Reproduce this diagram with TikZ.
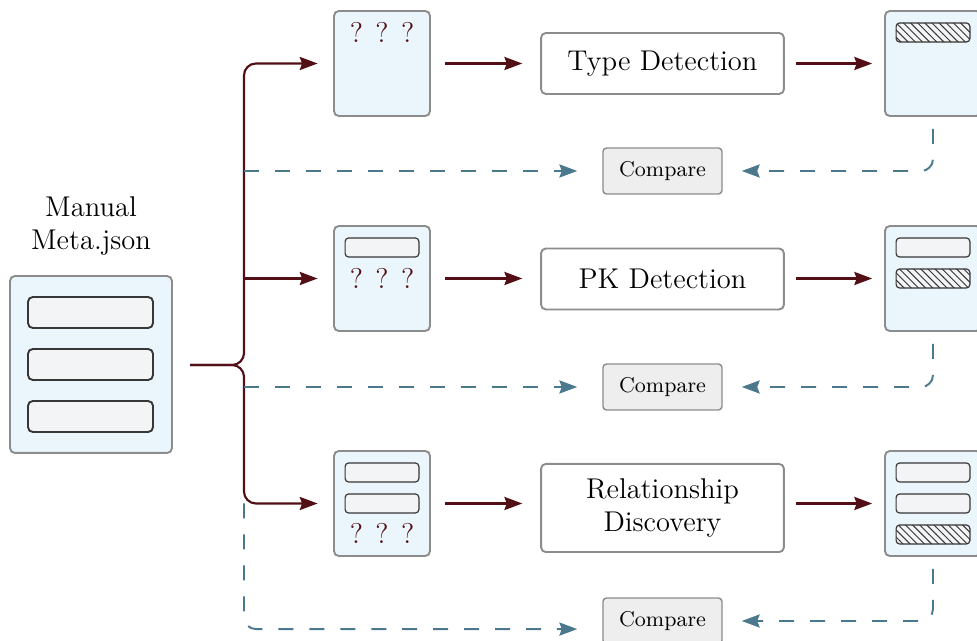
\documentclass[tikz,border=0pt]{standalone}
\usepackage{tikz}
\usetikzlibrary{arrows.meta}
\usetikzlibrary{patterns}

\definecolor{docblue}{RGB}{234,246,252}
\definecolor{docgray}{RGB}{140,140,140}
\definecolor{barfill}{RGB}{243,244,246}
\definecolor{barline}{RGB}{55,55,55}
\definecolor{cmpfill}{RGB}{238,238,238}
\definecolor{flowred}{RGB}{82,16,22}
\definecolor{checkblue}{RGB}{76,120,142}

\tikzset{
    docbox/.style={draw=docgray, fill=docblue, line width=0.8pt, rounded corners=2pt, inner sep=0pt, minimum width=40.3pt, minimum height=44.1pt},
    metabox/.style={docbox, minimum width=68pt, minimum height=74.3pt},
    rowbar/.style={draw=barline, fill=barfill, line width=0.5pt, rounded corners=1.5pt, inner sep=0pt, minimum width=31pt, minimum height=8pt},
    bigbar/.style={rowbar, line width=0.8pt, rounded corners=2pt, minimum width=52.5pt, minimum height=13pt},
    hatchbar/.style={draw=barline, line width=0.5pt, rounded corners=1.5pt, inner sep=0pt, minimum width=31pt, minimum height=8pt, preaction={fill=barfill}, pattern=north west lines, pattern color=barline},
    unknown/.style={text=flowred, font=\large, inner sep=0pt},
    procbox/.style={draw=docgray, fill=white, line width=0.8pt, rounded corners=2pt, minimum width=102pt, minimum height=25.6pt, align=center, font=\large},
    cmpbox/.style={draw=docgray, fill=cmpfill, line width=0.6pt, rounded corners=1.5pt, minimum width=50pt, minimum height=19.3pt, font=\small},
    flow/.style={draw=flowred, line width=0.9pt, -{Stealth[length=7.5pt, width=5.5pt, inset=1pt]}, shorten >=6.5pt},
    check/.style={draw=checkblue, line width=0.8pt, dash pattern=on 6.3pt off 6.7pt, -{Stealth[length=7.5pt, width=5.5pt, inset=1pt]}, rounded corners=5pt}
}

\begin{document}
\begin{tikzpicture}[x=0.42pt, y=-0.42pt]

    \useasboundingbox (0,0) rectangle (977,641);
    \clip (0,0) rectangle (977,641);

    % manual meta.json
    \node[align=center, font=\large] (metalabel) at (91,226) {Manual\\Meta.json};
    \node[metabox] (meta) at (91,364.5) {};
    \node[bigbar] (m1) at (90.5,312.5) {};
    \node[bigbar] (m2) at (90.5,364.5) {};
    \node[bigbar] (m3) at (90.5,416.5) {};

    % inputs with unknowns
    \node[docbox] (q1) at (382,63.5) {};
    \node[unknown] (u1) at (382,32) {? ? ?};
    \node[docbox] (q2) at (382,278.5) {};
    \node[rowbar] (q2a) at (382,247.5) {};
    \node[unknown] (u2) at (382,278) {? ? ?};
    \node[docbox] (q3) at (382,503.5) {};
    \node[rowbar] (q3a) at (382,472.5) {};
    \node[rowbar] (q3b) at (382,503.5) {};
    \node[unknown] (u3) at (382,533) {? ? ?};

    % detection steps
    \node[procbox] (type) at (662.5,63.5) {Type Detection};
    \node[procbox] (pk) at (662.5,279) {PK Detection};
    \node[procbox, minimum height=37pt] (rel) at (662.5,508) {Relationship\\Discovery};

    % outputs
    \node[docbox] (r1) at (933,63.5) {};
    \node[hatchbar] (r1a) at (933,32.5) {};
    \node[docbox] (r2) at (933,278.5) {};
    \node[rowbar] (r2a) at (933,247.5) {};
    \node[hatchbar] (r2b) at (933,278.5) {};
    \node[docbox] (r3) at (933,503.5) {};
    \node[rowbar] (r3a) at (933,472.5) {};
    \node[rowbar] (r3b) at (933,503.5) {};
    \node[hatchbar] (r3c) at (933,534.5) {};

    % comparisons
    \node[cmpbox] (c1) at (662.5,171) {Compare};
    \node[cmpbox] (c2) at (662.5,387) {Compare};
    \node[cmpbox] (c3) at (662.5,621) {Compare};

    % fork
    \coordinate (fork) at (190,365);
    \coordinate (trunk) at (244,365);
    \draw[flow, rounded corners=5pt] (fork) -- (trunk) |- (q1.west);
    \draw[flow, rounded corners=5pt] (fork) -- (trunk) |- (q3.west);
    \draw[flow] (trunk |- q2.west) -- (q2.west);

    % pipelines
    \draw[flow, shorten <=6pt, shorten >=7.5pt] (q1.east) -- (q1.east -| type.west);
    \draw[flow, shorten <=6pt, shorten >=7.5pt] (q2.east) -- (q2.east -| pk.west);
    \draw[flow, shorten <=6pt, shorten >=7.5pt] (q3.east) -- (q3.east -| rel.west);
    \draw[flow, shorten <=4.6pt, shorten >=5pt] (r1.west -| type.east) -- (r1.west);
    \draw[flow, shorten <=4.6pt, shorten >=5pt] (r2.west -| pk.east) -- (r2.west);
    \draw[flow, shorten <=4.6pt, shorten >=5pt] (r3.west -| rel.east) -- (r3.west);

    % checks against the manual file
    \draw[check, shorten >=10.5pt] (trunk |- c1.west) -- (c1.west);
    \draw[check, shorten >=10.5pt] (trunk |- c2.west) -- (c2.west);
    \draw[check, shorten >=10.5pt] (trunk |- q3.west) |- ([yshift=-3.4pt]c3.west);
    \draw[check, shorten <=5pt, shorten >=8pt] (r1.south) |- (c1.east);
    \draw[check, shorten <=5pt, shorten >=8pt] (r2.south) |- (c2.east);
    \draw[check, shorten <=5pt, shorten >=8pt] (r3.south) |- (c3.east);

\end{tikzpicture}
\end{document}
